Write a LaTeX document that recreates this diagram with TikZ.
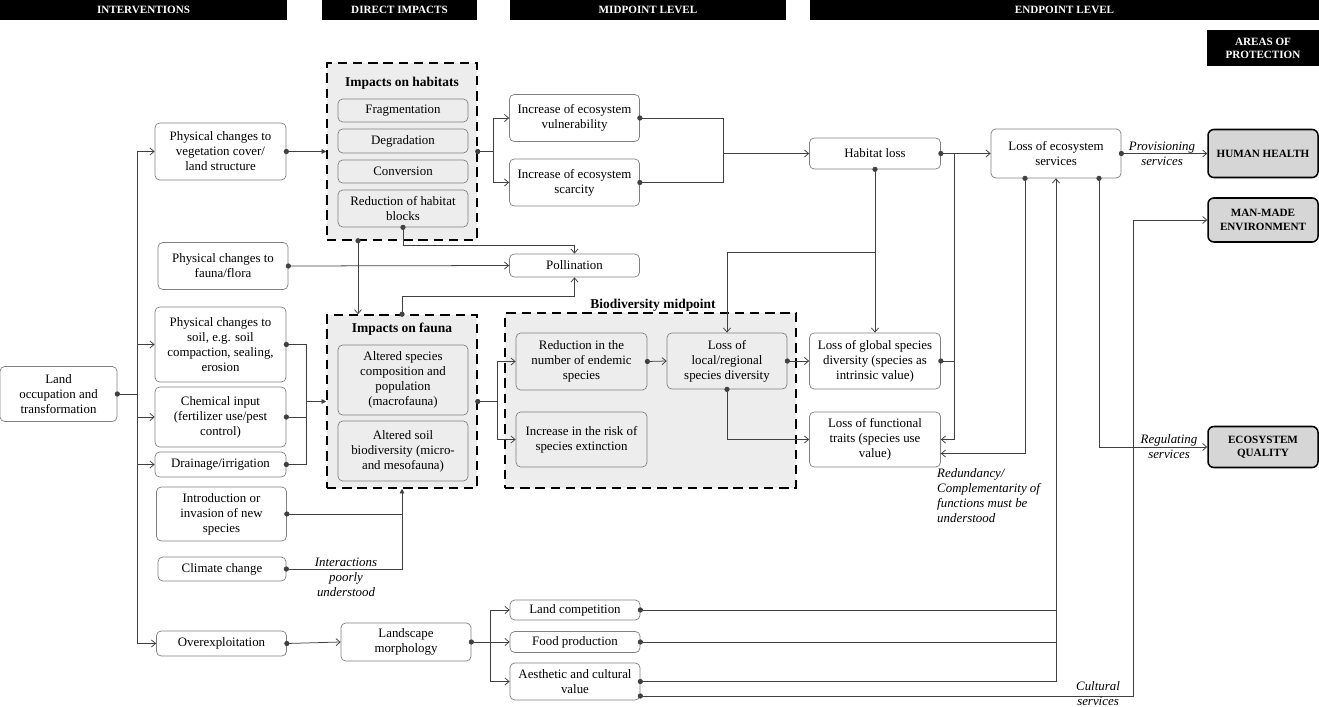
\documentclass[tikz,border=0pt]{standalone}
\usepackage{fontspec}
\setmainfont{Liberation Serif}
\usetikzlibrary{arrows.meta,calc}
\begin{document}
\begin{tikzpicture}[x=0.03cm, y=-0.03cm,
  font=\fontsize{11}{12.75}\selectfont,
  sz/.style args={#1/#2}{minimum width=#1*0.03cm, minimum height=#2*0.03cm},
  box/.style={draw=black!50, line width=0.6pt, rounded corners=4pt, align=center, inner sep=1pt},
  aop/.style={draw=black, line width=1.3pt, rounded corners=5pt, fill=black!16, align=center, inner sep=1pt,
    font=\fontsize{9.5}{11.5}\selectfont\bfseries},
  head/.style={fill=black, text=white, inner sep=0pt, align=center, font=\fontsize{9.5}{11}\selectfont\bfseries},
  group/.style={draw=black, line width=1.3pt, dash pattern=on 8pt off 5pt, fill=black!7, inner sep=0pt},
  grouptitle/.style={inner sep=0pt, font=\fontsize{11.5}{13}\selectfont\bfseries},
  lbl/.style={align=center, inner sep=0pt, font=\fontsize{11}{12.75}\selectfont\itshape},
  wire/.style={draw=black!75, line width=0.65pt},
  dotline/.style={wire, {Circle[length=4.4pt, sep=-2.2pt]}-},
  arrow/.style={wire, -{Straight Barb[length=3.5pt, width=6pt]}},
  dotarrow/.style={wire, {Circle[length=4.4pt, sep=-2.2pt]}-{Straight Barb[length=3.5pt, width=6pt]}},
  fillarrow/.style={wire, -{Triangle[length=4pt, width=4pt]}},
  dotfill/.style={wire, {Circle[length=4.4pt, sep=-2.2pt]}-{Triangle[length=4pt, width=4pt]}}]
  \useasboundingbox (0,0) rectangle (1319,707);

  % column headers
  \foreach \name/\cx/\w/\txt in {hint/143.5/287/INTERVENTIONS, hdir/399.5/155/DIRECT IMPACTS,
      hmid/648/276/MIDPOINT LEVEL, hend/1064.5/509/ENDPOINT LEVEL}
    \node[head, sz=\w/20] (\name) at (\cx,10) {\txt};
  \node[head, sz=112/36] (harea) at (1263,48) {AREAS OF\\PROTECTION};

  % dashed groups
  \node[group, sz=150/177] (habitats) at (402,151.5) {};
  \node[grouptitle] (habtitle) at (402,83) {Impacts on habitats};
  \node[group, sz=150/173] (fauna) at (402,401.5) {};
  \node[grouptitle] (fautitle) at (402,329) {Impacts on fauna};
  \node[group, sz=291/175] (biodiv) at (650.5,400.5) {};
  \node[grouptitle] (biotitle) at (653,305) {Biodiversity midpoint};

  % interventions
  \node[box, sz=117/55] (land) at (58.5,394) {Land\\occupation and\\transformation};
  \node[box, sz=131/57] (veg) at (220.5,151.5) {Physical changes to\\vegetation cover/\\land structure};
  \node[box, sz=130/47] (ff) at (223,266) {Physical changes to\\fauna/flora};
  \node[box, sz=131/75] (soil) at (220.5,344.5) {Physical changes to\\soil, e.g. soil\\compaction, sealing,\\erosion};
  \node[box, sz=131/60] (chem) at (220.5,417) {Chemical input\\(fertilizer use/pest\\control)};
  \node[box, sz=131/25] (drain) at (220.5,464.5) {Drainage/irrigation};
  \node[box, sz=130/54] (intro) at (221.5,514) {Introduction or\\invasion of new\\species};
  \node[box, sz=128/24] (climate) at (222,569) {Climate change};
  \node[box, sz=130/25] (overexp) at (221.5,643.5) {Overexploitation};

  % direct impacts
  \node[box, sz=130/23] (frag) at (403,110.5) {Fragmentation};
  \node[box, sz=130/24] (degr) at (403,141) {Degradation};
  \node[box, sz=130/23] (conv) at (403,171.5) {Conversion};
  \node[box, sz=130/37] (blocks) at (403,208.5) {Reduction of habitat\\blocks};
  \node[box, sz=130/70] (macro) at (403,380) {Altered species\\composition and\\population\\(macrofauna)};
  \node[box, sz=130/60] (micro) at (403,451) {Altered soil\\biodiversity (micro-\\and mesofauna)};
  \node[box, sz=130/38] (landsc) at (406,642) {Landscape\\morphology};

  % midpoint
  \node[box, sz=130/47] (vuln) at (574.5,118) {Increase of ecosystem\\vulnerability};
  \node[box, sz=130/47] (scar) at (574.5,182.5) {Increase of ecosystem\\scarcity};
  \node[box, sz=130/23] (poll) at (574.5,265.5) {Pollination};
  \node[box, sz=131/57] (endem) at (581.5,361.5) {Reduction in the\\number of endemic\\species};
  \node[box, sz=131/55] (risk) at (581.5,439.5) {Increase in the risk of\\species extinction};
  \node[box, sz=120/56] (local) at (727,361) {Loss of\\local/regional\\species diversity};
  \node[box, sz=130/20] (landc) at (575,610) {Land competition};
  \node[box, sz=130/21] (food) at (575,642) {Food production};
  \node[box, sz=130/37] (aesth) at (575,681.5) {Aesthetic and cultural\\value};

  % endpoint
  \node[box, sz=131/31] (hloss) at (875,153.5) {Habitat loss};
  \node[box, sz=131/56] (glob) at (875,361) {Loss of global species\\diversity (species as\\intrinsic value)};
  \node[box, sz=131/55] (func) at (875,439.5) {Loss of functional\\traits (species use\\value)};
  \node[box, sz=130/49] (loes) at (1056,153.5) {Loss of ecosystem\\services};

  % areas of protection
  \node[aop, sz=110/48] (hh) at (1263,153.5) {HUMAN HEALTH};
  \node[aop, sz=110/44] (mme) at (1263,220) {MAN-MADE\\ENVIRONMENT};
  \node[aop, sz=110/41] (ecoq) at (1263,447) {ECOSYSTEM\\QUALITY};

  % connectors
  \coordinate (trunk) at (137,394);
  \draw[dotline] (land.east) -- (trunk);
  \foreach \t in {veg,soil,chem,drain,overexp}
    \draw[arrow] (trunk) |- (\t.west);
  \draw[dotfill] (veg.east) -- (habitats.west);

  \coordinate (sbus) at (306,401.5);
  \foreach \s in {soil,chem,drain}
    \draw[dotline] (\s.east) -| (sbus);
  \draw[fillarrow] (sbus) -- (fauna.west);
  \draw[dotline] (intro.east) -- (intro.east -| fauna.south);
  \draw[dotfill] (climate.east) -| (fauna.south);

  \draw[dotarrow] ($(habitats.south)+(-44,0)$) -- ($(fauna.north)+(-44,0)$);
  \draw[dotarrow] (blocks.south) -- ++(0,18) -| (poll.north);
  \draw[dotarrow] (fauna.north) -- ++(0,-18) -| (poll.south);
  \draw[dotarrow] (ff.east) -- (poll.west);

  \coordinate (hbus) at (493,151.5);
  \draw[dotline] (habitats.east) -- (hbus);
  \foreach \t in {vuln,scar}
    \draw[arrow] (hbus) |- (\t.west);
  \coordinate (vbus) at (723,153.5);
  \foreach \s in {vuln,scar}
    \draw[dotline] (\s.east) -| (vbus);
  \draw[arrow] (vbus) -- (hloss.west);

  \coordinate (fbus) at (497,401.5);
  \draw[dotline] (fauna.east) -- (fbus);
  \foreach \t in {endem,risk}
    \draw[arrow] (fbus) |- (\t.west);
  \draw[dotarrow] (endem.east) -- (local.west);
  \draw[dotarrow] (local.east) -- (glob.west);
  \draw[dotarrow] (local.south) |- (func.west);

  \coordinate (hlsplit) at (875,252);
  \draw[dotarrow] (hloss.south) -- (glob.north);
  \draw[arrow] (hlsplit) -| (local.north);
  \coordinate (hlbus) at (954,153.5);
  \draw[dotarrow] (hloss.east) -- (loes.west);
  \draw[arrow] (hlbus) |- (func.east);
  \draw[dotline] (glob.east) -- (glob.east -| hlbus);

  \draw[dotarrow] ($(loes.south)+(-31,0)$) |- (func.-12.5);
  \draw[dotarrow] (loes.east) -- (hh.west);
  \draw[dotarrow] ($(loes.south)+(43,0)$) |- (ecoq.west);

  \draw[dotarrow] (overexp.east) -- (landsc.west);
  \coordinate (lmbus) at (490,642);
  \draw[dotline] (landsc.east) -- (lmbus);
  \foreach \t in {landc,food,aesth}
    \draw[arrow] (lmbus) |- (\t.west);
  \foreach \s in {landc,food,aesth}
    \draw[dotline] (\s.east) -- (\s.east -| loes.south);
  \draw[arrow] (aesth.east -| loes.south) -- (loes.south);
  \coordinate (cultturn) at (1133,220);
  \draw[dotarrow] ($(aesth.east)+(0,14.5)$) -| (cultturn) -- (mme.west);

  % labels
  \node[lbl] (provlbl) at (1162,153.5) {Provisioning\\services};
  \node[lbl] (reglbl) at (1169,447) {Regulating\\services};
  \node[lbl] (cultlbl) at (1098,694) {Cultural\\services};
  \node[lbl] (interlbl) at (346,577) {Interactions\\poorly\\understood};
  \node[lbl, anchor=west, align=left] (redlbl) at (937,496) {Redundancy/\\Complementarity of\\functions must be\\understood};
\end{tikzpicture}
\end{document}
